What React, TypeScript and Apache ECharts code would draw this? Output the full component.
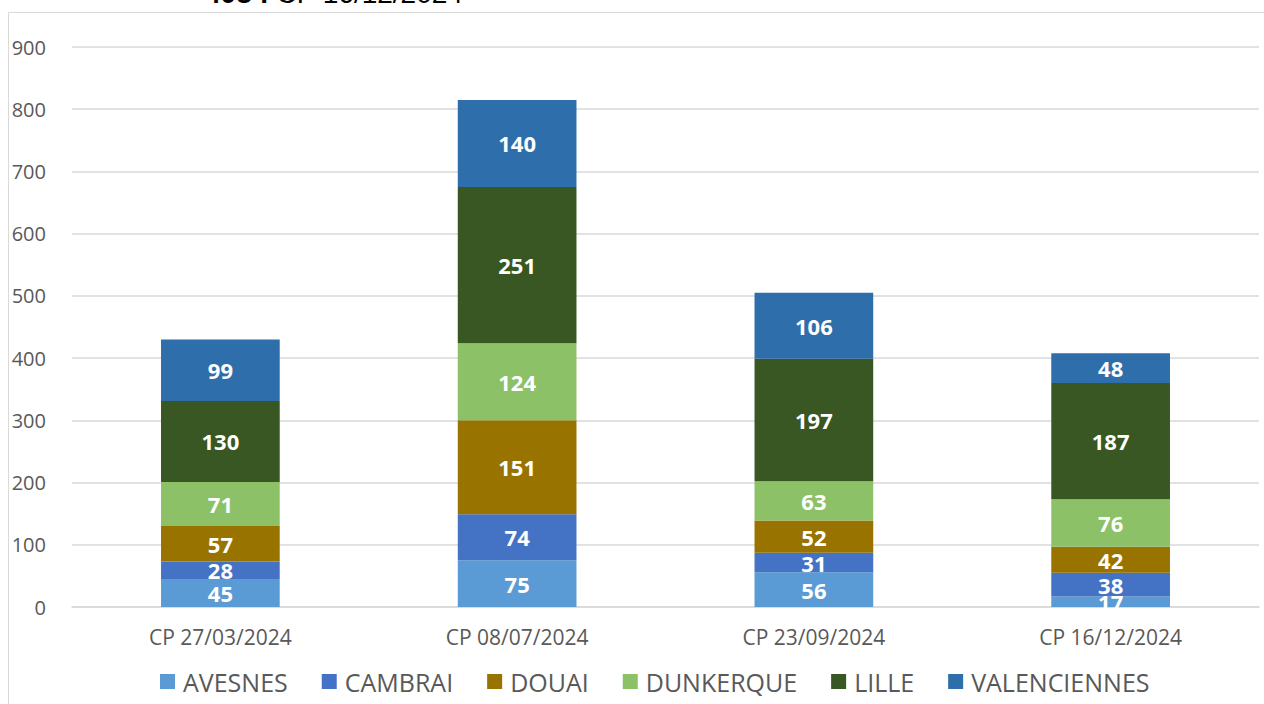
import React, { useEffect, useRef } from "react";
import * as echarts from "echarts";

const categories = ["CP 27/03/2024", "CP 08/07/2024", "CP 23/09/2024", "CP 16/12/2024"];
const seriesNames = ["AVESNES", "CAMBRAI", "DOUAI", "DUNKERQUE", "LILLE", "VALENCIENNES"];
const avesnes = [45, 75, 56, 17];
const cambrai = [28, 74, 31, 38];
const douai = [57, 151, 52, 42];
const dunkerque = [71, 124, 63, 76];
const lille = [130, 251, 197, 187];
const valenciennes = [99, 140, 106, 48];
const colors = ["#5B9BD5", "#4472C4", "#997300", "#8CC168", "#385723", "#2E6EAB"];
const yTicks = { min: 0, max: 900, interval: 100 };
const titleBold = "408 :";
const titleRest = " CP 16/12/2024";

export default function App() {
  const ref = useRef<HTMLDivElement>(null);
  useEffect(() => {
    if (!ref.current) return;
    const chart = echarts.init(ref.current, null, { renderer: "svg" });
    const values = [avesnes, cambrai, douai, dunkerque, lille, valenciennes];
    const font = "'Open Sans', sans-serif";
    chart.setOption({
      animation: false,
      textStyle: { fontFamily: font },
      grid: { left: 72, right: 5, top: 47, bottom: 97 },
      graphic: [
        {
          type: "rect",
          shape: { x: 8.5, y: 12.5, width: 1400, height: 900 },
          style: { fill: "none", stroke: "#d9d9d9", lineWidth: 1 },
          silent: true,
        },
        {
          type: "text",
          x: 205,
          y: -21,
          style: {
            text: "{b|" + titleBold + "}{r|" + titleRest + "}",
            rich: {
              b: { fontSize: 28, fontWeight: "bold", fill: "#000", fontFamily: "'Liberation Sans', Arial" },
              r: { fontSize: 28, fill: "#000", fontFamily: "'Liberation Sans', Arial" },
            },
          },
          silent: true,
        },
      ],
      legend: {
        top: 664,
        left: 155,
        itemWidth: 15,
        itemHeight: 15,
        itemGap: 34,
        icon: "rect",
        data: seriesNames,
        textStyle: { fontSize: 25, color: "#595959", fontFamily: font, padding: [0, 0, 0, 3] },
      },
      xAxis: {
        type: "category",
        data: categories,
        axisLine: { show: true, lineStyle: { color: "#d9d9d9", width: 1.5 } },
        axisTick: { show: false },
        axisLabel: { fontSize: 21, color: "#595959", margin: 19, fontFamily: font },
      },
      yAxis: {
        type: "value",
        min: yTicks.min,
        max: yTicks.max,
        interval: yTicks.interval,
        axisLine: { show: false },
        axisTick: { show: false },
        splitLine: { lineStyle: { color: "#d9d9d9", width: 1.5 } },
        axisLabel: { fontSize: 20, color: "#595959", margin: 26, fontFamily: font },
      },
      series: seriesNames.map((name, i) => ({
        name,
        type: "bar",
        stack: "total",
        barWidth: "40%",
        data: values[i],
        itemStyle: { color: colors[i] },
        label: {
          show: true,
          position: "inside",
          color: "#fff",
          fontWeight: "bold",
          fontSize: 22,
          fontFamily: font,
        },
      })),
    });
    return () => chart.dispose();
  }, []);
  return (
    <div
      ref={ref}
      style={{ position: "absolute", left: 0, top: 0, width: 1264, height: 704, background: "#fff" }}
    />
  );
}
